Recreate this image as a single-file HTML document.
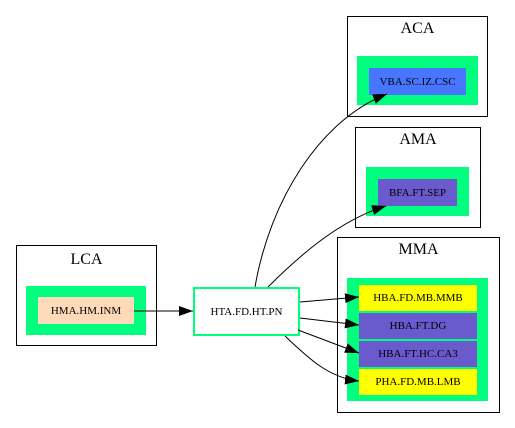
<!DOCTYPE html>
<html><head><style>
body{margin:0;width:515px;height:428px;background:#fff;position:relative;font-family:"Liberation Serif",serif;overflow:hidden}
.b{position:absolute;box-sizing:border-box}
.c{border:1px solid #000;background:#fff}
.g{background:#00ff7f}
.n{display:flex;align-items:center;justify-content:center;font-size:11px;color:#000}
.t{position:absolute;font-size:16px;text-align:center}
</style></head><body>
<div class="b c" style="left:347px;top:16px;width:141px;height:101px"></div>
<div class="t" style="left:347px;top:20px;width:141px">ACA</div>
<div class="b g" style="left:357px;top:56px;width:121px;height:49px"></div>
<div class="b n" style="left:369px;top:68px;width:97px;height:27px;background:#4876ff">VBA.SC.IZ.CSC</div>

<div class="b c" style="left:355px;top:127px;width:126px;height:101px"></div>
<div class="t" style="left:355px;top:131px;width:126px">AMA</div>
<div class="b g" style="left:366px;top:167px;width:103px;height:49px"></div>
<div class="b n" style="left:378px;top:179px;width:79px;height:27px;background:#6a5acd">BFA.FT.SEP</div>

<div class="b c" style="left:337px;top:237px;width:163px;height:176px"></div>
<div class="t" style="left:337px;top:241px;width:163px">MMA</div>
<div class="b g" style="left:347px;top:278px;width:141px;height:123px"></div>
<div class="b n" style="left:359px;top:285px;width:118px;height:26px;background:#ffff00">HBA.FD.MB.MMB</div>
<div class="b n" style="left:359px;top:313px;width:118px;height:26px;background:#6a5acd">HBA.FT.DG</div>
<div class="b n" style="left:359px;top:341px;width:118px;height:26px;background:#6a5acd">HBA.FT.HC.CA3</div>
<div class="b n" style="left:359px;top:369px;width:118px;height:26px;background:#ffff00">PHA.FD.MB.LMB</div>

<div class="b c" style="left:16px;top:245px;width:141px;height:101px"></div>
<div class="t" style="left:16px;top:251px;width:141px">LCA</div>
<div class="b g" style="left:26px;top:286px;width:120px;height:49px"></div>
<div class="b n" style="left:38px;top:297px;width:96px;height:27px;background:#ffdab9">HMA.HM.INM</div>

<div class="b n" style="left:193px;top:287px;width:107px;height:49px;border:2px solid #00ff7f;background:#fff">HTA.FD.HT.PN</div>

<svg width="515" height="428" style="position:absolute;left:0;top:0">
<defs><marker id="a" markerWidth="14" markerHeight="10" refX="14" refY="5" orient="auto" markerUnits="userSpaceOnUse"><path d="M0,0L14,5L0,10z"/></marker></defs>
<g fill="none" stroke="#000" stroke-width="1" marker-end="url(#a)">
<path d="M134,311L193,311"/>
<path d="M300,302L359,297"/>
<path d="M300,318L359,325"/>
<path d="M298,330L359,353"/>
<path d="M285,336C310,360 330,378 359,381"/>
<path d="M255,287C270,200 320,120 387,94"/>
<path d="M268,287C300,255 340,220 386,206"/>
</g></svg>
</body></html>
